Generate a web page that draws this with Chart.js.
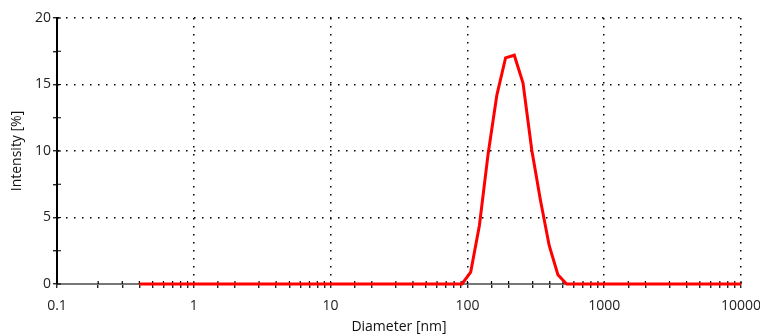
<!DOCTYPE html>
<html>
<head>
<meta charset="utf-8">
<script src="https://cdn.jsdelivr.net/npm/chart.js@4/dist/chart.umd.min.js"></script>
<style>
  html, body { margin: 0; padding: 0; background: #ffffff; }
  #wrap { width: 760px; height: 336px; position: relative; }
</style>
</head>
<body>
<div id="wrap"><canvas id="c" width="760" height="336"></canvas></div>
<script>
// Size bins (nm) and intensity (%)
const diameters = [0.4, 78.82, 91.28, 105.7, 122.4, 141.8, 164.2, 190.1, 220.2, 255.0, 295.3, 342.0, 396.1, 458.7, 531.2, 615.1, 10000];
const intensity = [0,   0,     0,     0.9,   4.4,   9.8,   14.2,  17.0,  17.2,  15.1,  10.1,  6.3,   2.9,   0.7,   0,     0,     0];
const xTickLabels = [0.1, 1, 10, 100, 1000, 10000];
const yTickLabels = [0, 5, 10, 15, 20];

const points = diameters.map((d, i) => ({ x: d, y: intensity[i] }));
const FONT = "'Open Sans', 'DejaVu Sans', sans-serif";

function isMajorX(v) {
  return xTickLabels.some(t => Math.abs(Math.log10(v) - Math.log10(t)) < 1e-6);
}
function isMajorY(v) {
  return yTickLabels.includes(v);
}

// Draw the inner half of each tick mark (ticks cross the axis line in the reference)
const innerTicks = {
  id: 'innerTicks',
  beforeDatasetsDraw(chart) {
    const { ctx, chartArea, scales } = chart;
    ctx.save();
    ctx.strokeStyle = '#000';
    ctx.lineWidth = 1.2;
    ctx.beginPath();
    scales.x.ticks.forEach(t => {
      const px = scales.x.getPixelForValue(t.value);
      ctx.moveTo(px, chartArea.bottom);
      ctx.lineTo(px, chartArea.bottom - 3);
    });
    scales.y.ticks.forEach(t => {
      const py = scales.y.getPixelForValue(t.value);
      ctx.moveTo(chartArea.left, py);
      ctx.lineTo(chartArea.left + 4, py);
    });
    ctx.stroke();
    ctx.restore();
  }
};

new Chart(document.getElementById('c'), {
  type: 'line',
  data: {
    datasets: [{
      data: points,
      borderColor: '#ff0000',
      borderWidth: 3,
      pointRadius: 0,
      tension: 0,
      fill: false,
      clip: 6
    }]
  },
  plugins: [innerTicks],
  options: {
    responsive: false,
    animation: false,
    devicePixelRatio: 1,
    layout: { padding: { top: 18, left: 0, right: 19, bottom: 0 } },
    plugins: { legend: { display: false }, tooltip: { enabled: false } },
    scales: {
      x: {
        type: 'logarithmic',
        min: 0.1,
        max: 10000,
        afterFit(scale) { scale.height = 52; scale.paddingLeft = 0; scale.paddingRight = 0; },
        title: {
          display: true,
          text: 'Diameter [nm]',
          color: '#111',
          font: { family: FONT, size: 14 },
          padding: { top: 0, bottom: 1 }
        },
        ticks: {
          autoSkip: false,
          maxRotation: 0,
          color: '#222',
          font: { family: FONT, size: 14 },
          padding: 10,
          callback(v) { return isMajorX(v) ? String(xTickLabels.find(t => Math.abs(Math.log10(v) - Math.log10(t)) < 1e-6)) : ''; }
        },
        grid: {
          color(ctx) {
            const v = ctx.tick && ctx.tick.value;
            return (v && isMajorX(v) && Math.abs(v - 0.1) > 1e-9) ? '#000' : 'rgba(0,0,0,0)';
          },
          lineWidth: 1.5,
          tickColor: '#000',
          tickLength: 4,
          tickWidth: 1.2
        },
        border: { display: true, color: '#777', width: 2, dash: [1.5, 6.5] }
      },
      y: {
        min: 0,
        max: 20,
        afterFit(scale) { scale.width = 57; },
        title: {
          display: true,
          text: 'Intensity [%]',
          color: '#111',
          font: { family: FONT, size: 14 },
          padding: { top: 9, bottom: 0 }
        },
        ticks: {
          stepSize: 2.5,
          color: '#222',
          font: { family: FONT, size: 14 },
          padding: 2,
          callback(v) { return isMajorY(v) ? String(v) : ''; }
        },
        grid: {
          color(ctx) {
            const v = ctx.tick && ctx.tick.value;
            return (v && isMajorY(v)) ? '#000' : 'rgba(0,0,0,0)';
          },
          lineWidth: 1.5,
          tickColor: '#000',
          tickLength: 4,
          tickWidth: 1.2
        },
        border: { display: true, color: '#000', width: 2, dash: [1.5, 6.5] }
      }
    }
  }
});
</script>
</body>
</html>
